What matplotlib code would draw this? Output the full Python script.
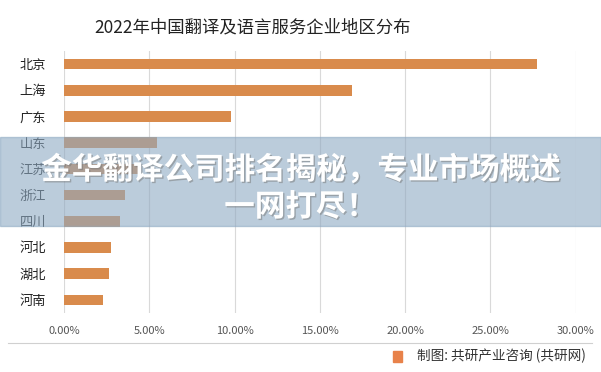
import matplotlib.pyplot as plt
import matplotlib.patheffects as pe
from matplotlib.patches import Rectangle

plt.rcParams['font.family'] = ['Noto Sans CJK SC', 'DejaVu Sans']

regions = ['北京', '上海', '广东', '山东', '江苏', '浙江', '四川', '河北', '湖北', '河南']
shares = [27.7, 16.9, 9.8, 5.45, 4.4, 3.6, 3.3, 2.75, 2.65, 2.3]
xticks = [0, 5, 10, 15, 20, 25, 30]

fig = plt.figure(figsize=(6.01, 3.72), dpi=100)
ax = fig.add_axes([0.1065, 0.1586, 0.8515, 0.7044])

ypos = list(range(len(regions)))
ax.barh(ypos, shares, height=0.4, color='#D98B4C', zorder=3)
ax.set_yticks(ypos)
ax.set_yticklabels(regions, fontsize=9.5, color='#222222')
ax.set_ylim(len(regions) - 0.5, -0.5)
ax.set_xlim(0, 30)
ax.set_xticks(xticks)
ax.set_xticklabels([f'{v:.2f}%' for v in xticks], fontsize=8, color='#555555')
ax.tick_params(length=0, axis='both')
ax.tick_params(axis='x', pad=9)
ax.tick_params(axis='y', pad=13)
for s in ax.spines.values():
    s.set_visible(False)
ax.grid(axis='x', color='#D9D9D9', linewidth=0.8, zorder=0)

fig.text(253 / 601, 0.927, '2022年中国翻译及语言服务企业地区分布', ha='center', va='center',
         fontsize=12.5, color='#222222')

# separator line and source
fig.add_artist(plt.Line2D([0.013, 0.985], [1 - 343 / 372] * 2, color='#D0D0D0', linewidth=0.8))
fig.add_artist(Rectangle((393 / 601, 1 - 362 / 372), 9 / 601, 11 / 372, color='#E8824A'))
fig.text(0.975, 1 - 356 / 372, '制图: 共研产业咨询 (共研网)', ha='right', va='center',
         fontsize=9.8, color='#333333')

# banner overlay
fig.add_artist(Rectangle((0, 1 - 226 / 372), 1, 89 / 372, color=(142 / 255, 170 / 255, 195 / 255),
                         alpha=0.6, zorder=5))
shadow = [pe.withSimplePatchShadow(offset=(1, -1), shadow_rgbFace='#777777', alpha=0.5)]
fig.text(0.5, 1 - 170 / 372, '金华翻译公司排名揭秘，专业市场概述', ha='center', va='center',
         fontsize=22, color='white', weight='bold', zorder=6, path_effects=shadow)
fig.text(0.5, 1 - 207 / 372, '一网打尽！', ha='center', va='center',
         fontsize=22, color='white', weight='bold', zorder=6, path_effects=shadow)

fig.savefig('out.png', dpi=100)
